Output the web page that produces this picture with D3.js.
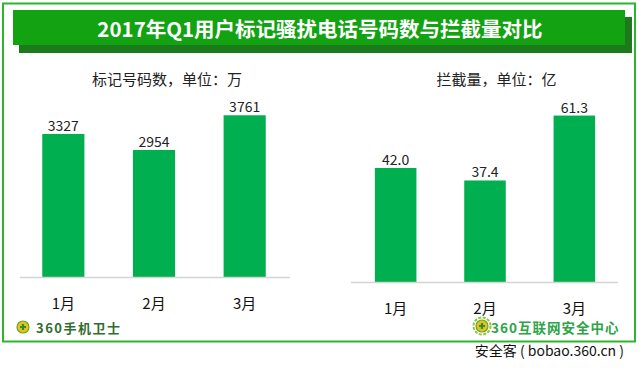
<!DOCTYPE html>
<html>
<head>
<meta charset="utf-8">
<script src="https://cdn.jsdelivr.net/npm/d3@7"></script>
<style>
  body { margin: 0; background: #fff; }
  svg { display: block; font-family: "Noto Sans CJK SC", "Noto Sans", sans-serif; }
</style>
</head>
<body>
<div id="chart"></div>
<script>
"use strict";
// chart data
var months = ["1月", "2月", "3月"];
var markedNumbers = [3327, 2954, 3761];   // 万
var blockedCalls = [42.0, 37.4, 61.3];    // 亿
var title = "2017年Q1用户标记骚扰电话号码数与拦截量对比";
var leftSubtitle = "标记号码数，单位：万";
var rightSubtitle = "拦截量，单位：亿";

var w = 639, h = 368;
var barColor = "#00b050";

var svg = d3.select("#chart").append("svg")
  .attr("width", w)
  .attr("height", h);

svg.append("rect").attr("width", w).attr("height", h).attr("fill", "#fff");

// outer green frame
svg.append("rect")
  .attr("x", 3).attr("y", 3.5)
  .attr("width", 632).attr("height", 338)
  .attr("fill", "none")
  .attr("stroke", "#2db52d")
  .attr("stroke-width", 2);

// title banner with dark shadow
svg.append("rect")
  .attr("x", 19).attr("y", 17)
  .attr("width", 613).attr("height", 36)
  .attr("fill", "#1c7a1c");
svg.append("rect")
  .attr("x", 13).attr("y", 10)
  .attr("width", 612).attr("height", 35)
  .attr("fill", "#12a212");
svg.append("text")
  .attr("x", 320).attr("y", 28)
  .attr("text-anchor", "middle")
  .attr("dominant-baseline", "central")
  .attr("fill", "#fff")
  .attr("font-size", 20.5)
  .attr("font-weight", "bold")
  .text(title);

//one little bar chart: values, band range, baseline, px per unit
function barChart(values, fmt, subtitle, x0, x1, axisL, axisR, base, pxPer, catY) {
  var x = d3.scaleBand().domain(months).range([x0, x1]).paddingInner(0.535).paddingOuter(0.2675);
  var y = d3.scaleLinear().domain([0, 1]).range([base, base - pxPer]);
  var g = svg.append("g");

  g.append("text")
    .attr("x", (axisL + axisR) / 2 + 12)
    .attr("y", 78)
    .attr("text-anchor", "middle")
    .attr("dominant-baseline", "central")
    .attr("fill", "#222")
    .attr("font-size", 15)
    .text(subtitle);

  g.selectAll(".bar")
    .data(values)
    .enter().append("rect")
    .attr("class", "bar")
    .attr("x", function(d, i) { return x(months[i]); })
    .attr("y", function(d) { return y(d); })
    .attr("width", x.bandwidth())
    .attr("height", function(d) { return base - y(d); })
    .attr("fill", barColor);

  g.selectAll(".val")
    .data(values)
    .enter().append("text")
    .attr("class", "val")
    .attr("x", function(d, i) { return x(months[i]) + x.bandwidth() / 2; })
    .attr("y", function(d) { return y(d) - 9; })
    .attr("text-anchor", "middle")
    .attr("dominant-baseline", "central")
    .attr("fill", "#222")
    .attr("font-size", 14)
    .text(fmt);

  g.append("line")
    .attr("x1", axisL).attr("x2", axisR)
    .attr("y1", base + 0.5).attr("y2", base + 0.5)
    .attr("stroke", "#d4d4d4")
    .attr("stroke-width", 1.5);

  g.selectAll(".cat")
    .data(months)
    .enter().append("text")
    .attr("class", "cat")
    .attr("x", function(d) { return x(d) + x.bandwidth() / 2; })
    .attr("y", catY)
    .attr("text-anchor", "middle")
    .attr("dominant-baseline", "central")
    .attr("fill", "#111")
    .attr("font-size", 15)
    .text(function(d) { return d; });
}

barChart(markedNumbers, function(d) { return d; }, leftSubtitle,
  18, 290, 20, 290, 277, 0.043, 302);
barChart(blockedCalls, function(d) { return d.toFixed(1); }, rightSubtitle,
  351, 619, 351, 618, 282, 2.715, 307);

// footer logos
function logoIcon(cx, cy, r, laurel) {
  if (laurel) {
    svg.append("circle").attr("cx", cx).attr("cy", cy).attr("r", r + 2.5)
      .attr("fill", "none").attr("stroke", "#8cc63f").attr("stroke-width", 2)
      .attr("stroke-dasharray", "3,1.5");
  }
  svg.append("circle").attr("cx", cx).attr("cy", cy).attr("r", r)
    .attr("fill", "#e8c21a").attr("stroke", "#6aa52a").attr("stroke-width", 1.2);
  svg.append("path")
    .attr("d", "M" + (cx - 3) + "," + cy + "h6M" + cx + "," + (cy - 3) + "v6")
    .attr("stroke", "#2f8f2f").attr("stroke-width", 2.2);
}

logoIcon(23, 327, 6, false);
svg.append("text")
  .attr("x", 36).attr("y", 327)
  .attr("dominant-baseline", "central")
  .attr("font-size", 13).attr("font-weight", "bold")
  .attr("fill", "#2e6e30")
  .attr("letter-spacing", 1.5)
  .text("360手机卫士");

logoIcon(482, 326, 6, true);
svg.append("text")
  .attr("x", 491).attr("y", 327)
  .attr("dominant-baseline", "central")
  .attr("font-size", 13.5).attr("font-weight", "bold")
  .attr("fill", "#2da447")
  .attr("letter-spacing", 1)
  .text("360互联网安全中心");

// watermark
svg.append("text")
  .attr("x", 624).attr("y", 350)
  .attr("text-anchor", "end")
  .attr("dominant-baseline", "central")
  .attr("font-size", 14)
  .attr("fill", "#111")
  .attr("stroke", "#fff").attr("stroke-width", 2.5)
  .attr("paint-order", "stroke")
  .text("安全客 ( bobao.360.cn )");
</script>
</body>
</html>
